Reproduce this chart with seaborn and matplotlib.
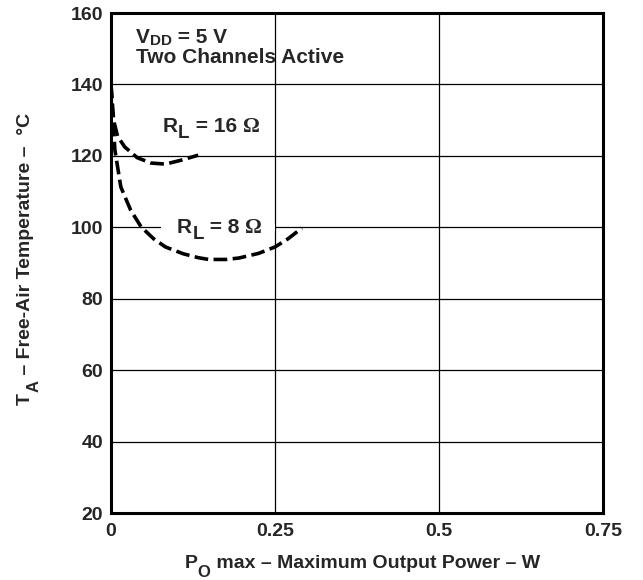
import matplotlib
matplotlib.use("Agg")
import matplotlib.pyplot as plt
import seaborn as sns
import pandas as pd

# Maximum output power (W) vs free-air temperature (degC)
p_16 = [0.0, 0.004, 0.010, 0.021, 0.040, 0.061, 0.083, 0.107, 0.133]
t_16 = [140.0, 130.0, 125.5, 122.5, 119.5, 118.0, 117.7, 118.8, 120.2]

p_8 = [0.0, 0.003, 0.006, 0.015, 0.030, 0.046, 0.065, 0.083, 0.110, 0.133, 0.149,
       0.175, 0.195, 0.225, 0.250, 0.270, 0.291]
t_8 = [140.0, 130.0, 121.6, 111.3, 104.8, 100.1, 96.8, 94.5, 92.6, 91.5, 91.0,
       91.0, 91.4, 92.7, 94.5, 96.8, 99.8]

x_ticks = [0, 0.25, 0.5, 0.75]
x_tick_labels = ["0", "0.25", "0.5", "0.75"]
y_ticks = [20, 40, 60, 80, 100, 120, 140, 160]

df = pd.concat([
    pd.DataFrame({"P": p_16, "T": t_16, "load": "16"}),
    pd.DataFrame({"P": p_8, "T": t_8, "load": "8"}),
])

sns.set_style("white")
plt.rcParams["font.family"] = ["Liberation Sans", "DejaVu Sans"]
plt.rcParams["font.weight"] = "bold"

SANS = ["Liberation Sans", "DejaVu Sans"]
SERIF = ["Liberation Serif", "DejaVu Serif"]

fig = plt.figure(figsize=(6.43, 5.8), dpi=100)
ax = fig.add_axes([0.1726, 0.1155, 0.7652, 0.862])
W, H = fig.bbox.width, fig.bbox.height
PT = fig.dpi / 72.0

for load, sub in df.groupby("load", sort=False):
    sns.lineplot(data=sub, x="P", y="T", ax=ax, color="black", linewidth=2.6,
                 sort=False, estimator=None, legend=False)
for line in ax.get_lines():
    line.set_dashes([3.8, 1.5])
    line.set_dash_capstyle("butt")

ax.set_xlabel("")
ax.set_ylabel("")
ax.set_xlim(0, 0.75)
ax.set_ylim(20, 160)
ax.set_xticks(x_ticks)
ax.set_xticklabels(x_tick_labels)
ax.set_yticks(y_ticks)
ax.tick_params(axis="x", length=0, labelsize=14, pad=7)
ax.tick_params(axis="y", length=0, labelsize=14, pad=5.5)
for lab in ax.get_xticklabels() + ax.get_yticklabels():
    lab.set_fontweight("bold")

ax.grid(True, color="black", linewidth=0.9)
ax.set_axisbelow(True)
for sp in ax.spines.values():
    sp.set_color("black")
    sp.set_linewidth(2.2)
    sp.set_visible(True)

renderer = fig.canvas.get_renderer()


def run(x_px, y_px, pieces, rot=False):
    """Lay out text pieces (text, size, drop_pt, gap_pt, family, weight) one
    after another from a baseline start point given in pixels; drop moves a
    piece below the baseline, as for a subscript."""
    arts = []
    cur = y_px if rot else x_px
    for txt, size, drop, gap, fam, wt in pieces:
        cur += gap * PT
        if rot:
            t = fig.text((x_px + drop * PT) / W, cur / H, txt, fontsize=size,
                         family=fam, weight=wt, rotation=90,
                         rotation_mode="anchor", ha="left", va="baseline")
            cur = t.get_window_extent(renderer).y1
        else:
            t = fig.text(cur / W, (y_px - drop * PT) / H, txt, fontsize=size,
                         family=fam, weight=wt, ha="left", va="baseline")
            cur = t.get_window_extent(renderer).x1
        arts.append(t)
    return arts


def centre(arts, rot, target_px):
    boxes = [a.get_window_extent(renderer) for a in arts]
    if rot:
        lo, hi = min(b.y0 for b in boxes), max(b.y1 for b in boxes)
        d = (target_px - (lo + hi) / 2) / H
        for a in arts:
            x, y = a.get_position()
            a.set_position((x, y + d))
    else:
        lo, hi = min(b.x0 for b in boxes), max(b.x1 for b in boxes)
        d = (target_px - (lo + hi) / 2) / W
        for a in arts:
            x, y = a.get_position()
            a.set_position((x + d, y))


def data_px(x, y):
    return ax.transData.transform((x, y))


# in-plot notes
run(*data_px(0.038, 151.6), [("V", 15, 0, 0, SANS, "bold"),
                             ("DD", 11, 1.7, 0.3, SANS, "bold"),
                             (" = 5 V", 15, 0, 0, SANS, "bold")])
run(*data_px(0.038, 146.0), [("Two Channels Active", 15, 0, 0, SANS, "bold")])
run(*data_px(0.079, 126.7), [("R", 15, 0, 0, SANS, "bold"),
                             ("L", 13.5, 4.5, 0.3, SANS, "bold"),
                             (" = 16 ", 15, 0, 0, SANS, "bold"),
                             ("Ω", 15, 0, 0, SERIF, "bold")])

# white patch behind the 8-ohm note so the gridline breaks there
ax.axhspan(99.0, 101.0, xmin=(161 - 111) / 492, xmax=(275 - 111) / 492,
           facecolor="white", edgecolor="none", zorder=1.5)
run(*data_px(0.1006, 98.4), [("R", 15, 0, 0, SANS, "bold"),
                             ("L", 13.5, 4.5, 0.3, SANS, "bold"),
                             (" = 8 ", 15, 0, 0, SANS, "bold"),
                             ("Ω", 15, 0, 0, SERIF, "bold")])

# axis titles
xl = run(177, H - 568, [("P", 14, 0, 0, SANS, "bold"),
                        ("O", 12, 6.5, 0.3, SANS, "bold"),
                        (" max – Maximum Output Power – W", 14, 0, 0, SANS, "bold")])
centre(xl, False, 362)
yl = run(30, 150, [("T", 14, 0, 0, SANS, "bold"),
                   ("A", 12, 6.5, 0.3, SANS, "bold"),
                   (" – Free-Air Temperature –  °C", 14, 0, 0, SANS, "bold")],
         rot=True)
centre(yl, True, H - 259)

fig.savefig("out.png", dpi=100)
